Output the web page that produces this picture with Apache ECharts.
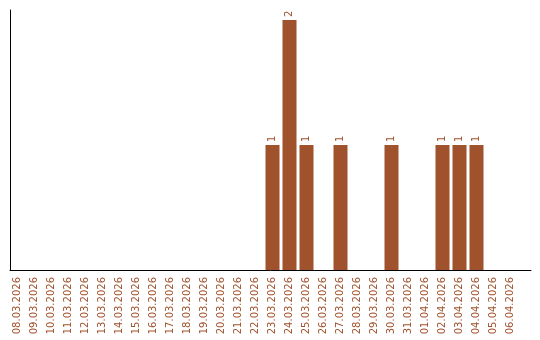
<!DOCTYPE html>
<html><head><meta charset="utf-8">
<script src="https://cdn.jsdelivr.net/npm/echarts@6/dist/echarts.min.js"></script>
<style>html,body{margin:0;padding:0;background:#fff}#c{width:540px;height:340px}</style>
</head><body><div id="c"></div>
<script>
var categories = ['08.03.2026','09.03.2026','10.03.2026','11.03.2026','12.03.2026','13.03.2026','14.03.2026','15.03.2026','16.03.2026','17.03.2026','18.03.2026','19.03.2026','20.03.2026','21.03.2026','22.03.2026','23.03.2026','24.03.2026','25.03.2026','26.03.2026','27.03.2026','28.03.2026','29.03.2026','30.03.2026','31.03.2026','01.04.2026','02.04.2026','03.04.2026','04.04.2026','05.04.2026','06.04.2026'];
var counts = [0,0,0,0,0,0,0,0,0,0,0,0,0,0,0,1,2,1,0,1,0,0,1,0,0,1,1,1,0,0];

var color = '#A0522D';
var chart = echarts.init(document.getElementById('c'), null, {renderer:'canvas'});
chart.setOption({
  animation:false,
  grid:[
    {left:9, top:10, width:510, bottom:70, containLabel:false},
    {left:10, top:10, right:9, bottom:70, containLabel:false}
  ],
  xAxis:[
    {type:'category', gridIndex:0, data:categories,
     axisLine:{show:false}, axisTick:{show:false},
     axisLabel:{rotate:90, interval:0, color:color, fontFamily:'DejaVu Sans', fontSize:10, margin:7}},
    {type:'value', gridIndex:1, min:0, max:1,
     axisLine:{show:true, onZero:false, lineStyle:{color:'#000', width:1}},
     axisTick:{show:false}, axisLabel:{show:false}, splitLine:{show:false}}
  ],
  yAxis:[
    {type:'value', gridIndex:0, min:0, max:2.08,
     axisLine:{show:false},
     axisTick:{show:false}, axisLabel:{show:false}, splitLine:{show:false}},
    {type:'value', gridIndex:1, min:0, max:1,
     axisLine:{show:true, onZero:false, lineStyle:{color:'#000', width:1}},
     axisTick:{show:false}, axisLabel:{show:false}, splitLine:{show:false}}
  ],
  series:[{
    type:'bar', xAxisIndex:0, yAxisIndex:0, data:counts.map(function(v){return v===0?null:v;}),
    barWidth:14, itemStyle:{color:color},
    label:{show:true, position:'top', rotate:90, align:'left', verticalAlign:'middle', distance:3,
      color:color, fontFamily:'DejaVu Sans', fontSize:10}
  }]
});
</script></body></html>
